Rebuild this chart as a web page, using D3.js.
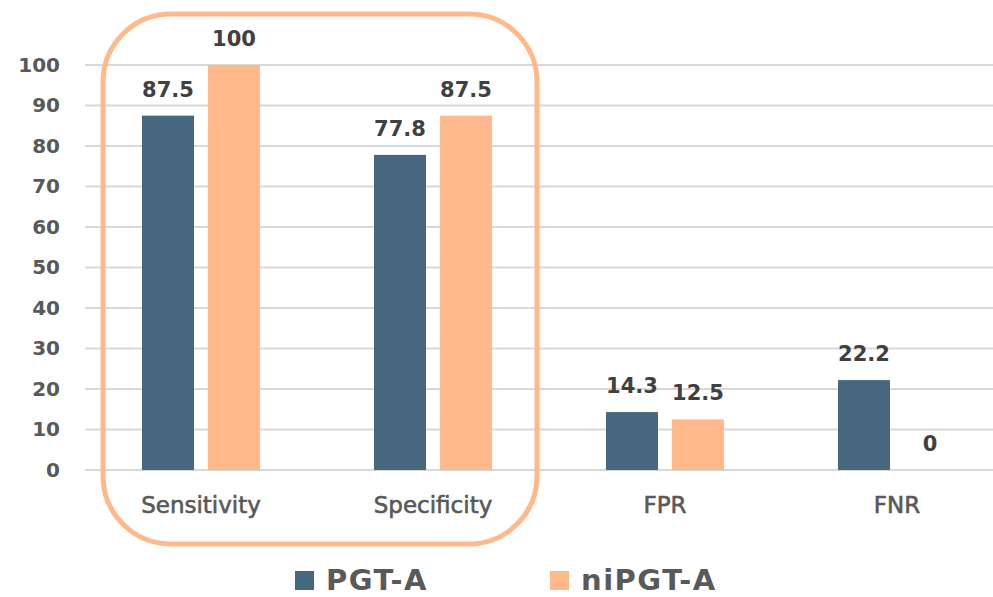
<!DOCTYPE html>
<html>
<head>
<meta charset="utf-8">
<script src="https://cdn.jsdelivr.net/npm/d3@7"></script>
<style>
  html, body { margin: 0; padding: 0; background: #ffffff; }
  svg text { font-family: "DejaVu Sans", sans-serif; }
</style>
</head>
<body>
<svg id="chart" width="993" height="597"></svg>
<script>
// Diagnostic performance by method
const categories = ["Sensitivity", "Specificity", "FPR", "FNR"];
const seriesNames = ["PGT-A", "niPGT-A"];
const pgtaValues = [87.5, 77.8, 14.3, 22.2];
const nipgtaValues = [100, 87.5, 12.5, 0];
const yTicks = [0, 10, 20, 30, 40, 50, 60, 70, 80, 90, 100];
const colors = ["#46677e", "#ffb98a"];

const svg = d3.select("#chart");
const plotLeft = 85, plotRight = 1013, plotTop = 65, plotBottom = 470;

const x0 = d3.scaleBand().domain(categories).range([plotLeft, plotRight])
  .paddingInner(0.4914).paddingOuter(0.2457);
const x1 = d3.scaleBand().domain(seriesNames).range([0, x0.bandwidth()])
  .paddingInner(0.212).paddingOuter(0);
const y = d3.scaleLinear().domain([0, 100]).range([plotBottom, plotTop]);

// horizontal gridlines
svg.append("g").selectAll("line").data(yTicks).join("line")
  .attr("x1", plotLeft).attr("x2", 993)
  .attr("y1", d => y(d)).attr("y2", d => y(d))
  .attr("stroke", "#d9d9d9").attr("stroke-width", 2);

// y axis labels
const yAxis = d3.axisLeft(y).tickValues(yTicks).tickSize(0).tickPadding(0);
const yg = svg.append("g").attr("transform", "translate(60,0)").call(yAxis);
yg.select(".domain").remove();
yg.selectAll("text").attr("fill", "#595959").attr("font-size", 20)
  .attr("font-weight", "bold").style("font-family", "DejaVu Sans, sans-serif");

// bars
const rows = categories.map((c, i) => ({ cat: c, vals: [pgtaValues[i], nipgtaValues[i]] }));
const groups = svg.append("g").selectAll("g").data(rows).join("g")
  .attr("transform", d => `translate(${x0(d.cat)},0)`);
groups.selectAll("rect").data(d => d.vals.map((v, j) => ({ s: seriesNames[j], v, j })))
  .join("rect")
  .attr("x", d => x1(d.s)).attr("width", x1.bandwidth())
  .attr("y", d => y(d.v)).attr("height", d => y(0) - y(d.v))
  .attr("fill", d => colors[d.j]);
groups.selectAll("text").data(d => d.vals.map((v, j) => ({ s: seriesNames[j], v, j })))
  .join("text")
  .attr("x", d => x1(d.s) + x1.bandwidth() / 2)
  .attr("y", d => y(d.v) - 19)
  .attr("text-anchor", "middle")
  .attr("font-size", 21).attr("font-weight", "bold").attr("fill", "#404040")
  .text(d => d.v);

// category labels
const xAxis = d3.axisBottom(x0).tickSize(0).tickPadding(0);
const xg = svg.append("g").attr("transform", `translate(0,${plotBottom})`).call(xAxis);
xg.select(".domain").remove();
xg.selectAll("text").attr("fill", "#595959").attr("font-size", 23)
  .attr("stroke", "#595959").attr("stroke-width", 0.6)
  .attr("dy", null).attr("y", 43).style("font-family", "DejaVu Sans, sans-serif");

// highlight frame around the first two metrics
svg.append("rect")
  .attr("x", 103).attr("y", 14).attr("width", 434).attr("height", 530)
  .attr("rx", 68).attr("ry", 68)
  .attr("fill", "none").attr("stroke", "#ffb98a").attr("stroke-width", 5);

// legend
const legendX = [295, 550];
const lg = svg.append("g").selectAll("g").data(seriesNames).join("g")
  .attr("transform", (d, i) => `translate(${legendX[i]},571)`);
lg.append("rect").attr("width", 19).attr("height", 19).attr("fill", (d, i) => colors[i]);
lg.append("text").attr("x", 31).attr("y", 19)
  .attr("font-size", 29).attr("font-weight", "bold").attr("fill", "#595959")
  .attr("letter-spacing", 1.5)
  .text(d => d);
</script>
</body>
</html>
